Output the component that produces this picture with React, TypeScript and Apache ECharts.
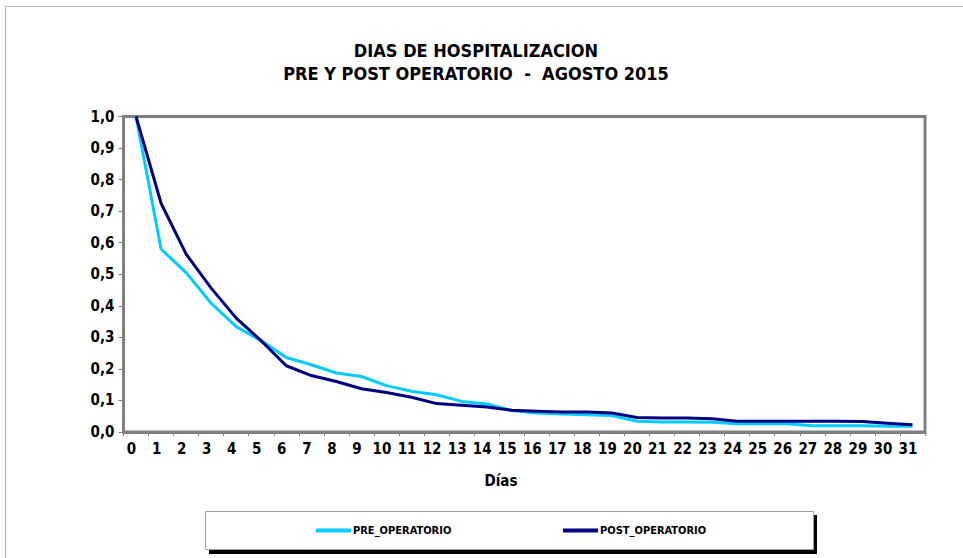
import React, { useEffect, useRef } from "react";
import * as echarts from "echarts";

const days = Array.from({ length: 32 }, (_, i) => String(i));
const preOperatorio = [
  1.0, 0.58, 0.505, 0.408, 0.334, 0.289, 0.236, 0.213, 0.187, 0.176, 0.147, 0.129,
  0.118, 0.097, 0.089, 0.068, 0.06, 0.057, 0.055, 0.052, 0.034, 0.032, 0.032, 0.031,
  0.026, 0.026, 0.026, 0.02, 0.02, 0.02, 0.018, 0.018,
];
const postOperatorio = [
  1.0, 0.725, 0.564, 0.456, 0.361, 0.289, 0.21, 0.179, 0.16, 0.137, 0.125, 0.11,
  0.09, 0.085, 0.079, 0.069, 0.066, 0.063, 0.063, 0.06, 0.046, 0.044, 0.044, 0.042,
  0.034, 0.034, 0.034, 0.034, 0.034, 0.033, 0.028, 0.023,
];
const titleLines = ["DIAS DE HOSPITALIZACION", "PRE Y POST OPERATORIO  -  AGOSTO 2015"];
const xAxisTitle = "Días";
const seriesNames = ["PRE_OPERATORIO", "POST_OPERATORIO"];

const FONT = "'DejaVu Sans Condensed', 'DejaVu Sans', sans-serif";

export default function App() {
  const ref = useRef<HTMLDivElement>(null);
  useEffect(() => {
    if (!ref.current) return;
    const chart = echarts.init(ref.current, undefined, { renderer: "svg" });
    const legendCommon = {
      top: 525,
      itemWidth: 35,
      itemHeight: 4,
      itemGap: 0,
      padding: 0,
      icon: "rect",
      textStyle: { fontFamily: FONT, fontWeight: "bold", fontSize: 11, color: "#000", padding: [0, 0, 0, -3] },
    };
    chart.setOption({
      animation: false,
      backgroundColor: "#ffffff",
      grid: {
        left: 123.5,
        top: 116.5,
        right: 38,
        bottom: 126,
        show: true,
        borderColor: "#808080",
        borderWidth: 3,
        backgroundColor: "#ffffff",
      },
      xAxis: {
        type: "category",
        data: days,
        boundaryGap: true,
        axisLine: { show: true, lineStyle: { color: "#808080", width: 3 } },
        axisTick: { show: true, interval: 0, length: 4, lineStyle: { color: "#808080", width: 1 } },
        axisLabel: {
          interval: 0,
          margin: 9,
          padding: [0, 9, 0, 0],
          color: "#000000",
          fontFamily: FONT,
          fontWeight: "bold",
          fontSize: 15,
        },
        splitLine: { show: false },
      },
      yAxis: {
        type: "value",
        min: 0,
        max: 1,
        interval: 0.1,
        axisLine: { show: true, lineStyle: { color: "#808080", width: 3 } },
        axisTick: { show: true, length: 5, lineStyle: { color: "#808080", width: 1 } },
        axisLabel: {
          margin: 9,
          color: "#000000",
          fontFamily: FONT,
          fontWeight: "bold",
          fontSize: 15,
          formatter: (v: number) => v.toFixed(1).replace(".", ","),
        },
        splitLine: { show: false },
      },
      legend: [
        { ...legendCommon, data: [seriesNames[0]], left: 316 },
        { ...legendCommon, data: [seriesNames[1]], left: 563 },
      ],
      graphic: [
        {
          type: "rect",
          silent: true,
          z: -10,
          shape: { x: 5.5, y: 6.5, width: 1000, height: 1000 },
          style: { fill: "none", stroke: "#b4b4b4", lineWidth: 1 },
        },
        {
          type: "rect",
          silent: true,
          z: -5,
          shape: { x: 209, y: 515, width: 608, height: 39 },
          style: { fill: "#000000" },
        },
        {
          type: "rect",
          silent: true,
          z: -4,
          shape: { x: 205.5, y: 511.5, width: 608, height: 38 },
          style: { fill: "#ffffff", stroke: "#a0a0a0", lineWidth: 1 },
        },
        {
          type: "text",
          x: 476,
          y: 50,
          style: {
            text: titleLines[0],
            font: `bold 18px ${FONT}`,
            fill: "#000000",
            align: "center",
            verticalAlign: "middle",
            textAlign: "center",
            textVerticalAlign: "middle",
          },
        },
        {
          type: "text",
          x: 476,
          y: 73,
          style: {
            text: titleLines[1],
            font: `bold 18px ${FONT}`,
            fill: "#000000",
            align: "center",
            verticalAlign: "middle",
            textAlign: "center",
            textVerticalAlign: "middle",
          },
        },
        {
          type: "text",
          x: 501,
          y: 481,
          style: {
            text: xAxisTitle,
            font: `bold 15px ${FONT}`,
            fill: "#000000",
            align: "center",
            verticalAlign: "middle",
            textAlign: "center",
            textVerticalAlign: "middle",
          },
        },
      ],
      series: [
        {
          name: seriesNames[0],
          type: "line",
          data: preOperatorio,
          symbol: "none",
          smooth: false,
          color: "#00CCFF",
          lineStyle: { color: "#00CCFF", width: 3 },
        },
        {
          name: seriesNames[1],
          type: "line",
          data: postOperatorio,
          symbol: "none",
          smooth: false,
          color: "#000080",
          lineStyle: { color: "#000080", width: 3 },
        },
      ],
    });
    return () => chart.dispose();
  }, []);
  return (
    <div
      ref={ref}
      style={{ position: "absolute", left: 0, top: 0, width: 963, height: 558 }}
    />
  );
}
